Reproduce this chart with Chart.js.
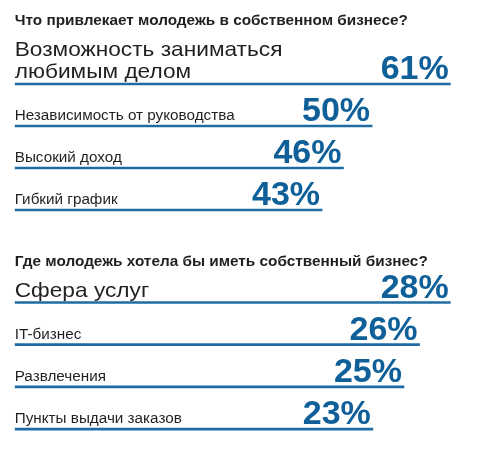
<!DOCTYPE html>
<html>
<head>
<meta charset="utf-8">
<script src="https://cdn.jsdelivr.net/npm/chart.js@4.4.1/dist/chart.umd.min.js"></script>
<style>
  html, body { margin: 0; padding: 0; background: #ffffff; }
  body { width: 488px; height: 452px; position: relative; overflow: hidden; }
  canvas { position: absolute; left: 0; }
  #c1 { top: 0; }
  #c2 { top: 231px; }
</style>
</head>
<body>
<canvas id="c1" width="488" height="231"></canvas>
<canvas id="c2" width="488" height="221"></canvas>
<script>
// ---- data ----
const title1 = 'Что привлекает молодежь в собственном бизнесе?';
const categories1 = [['Возможность заниматься', 'любимым делом'], 'Независимость от руководства', 'Высокий доход', 'Гибкий график'];
const values1 = [61, 50, 46, 43];

const title2 = 'Где молодежь хотела бы иметь собственный бизнес?';
const categories2 = ['Сфера услуг', 'IT-бизнес', 'Развлечения', 'Пункты выдачи заказов'];
const values2 = [28, 26, 25, 23];

// ---- styles ----
const FONT = '"Liberation Sans", Arial, Helvetica, sans-serif';
const LINE_COLOR = '#1f6ca5';
const VALUE_COLOR = '#0f5f99';
const TEXT_COLOR = '#231f20';

function wideText(ctx, text, x, y, sx) {
  ctx.save();
  ctx.translate(x, y);
  ctx.scale(sx, 1);
  ctx.fillText(text, 0, 0);
  ctx.restore();
}

function labelPlugin(title, titleBaseline) {
  return {
    id: 'labelsAndValues',
    afterDatasetsDraw(chart) {
      const ctx = chart.ctx;
      const area = chart.chartArea;
      const meta = chart.getDatasetMeta(0);
      const labels = chart.data.labels;
      const data = chart.data.datasets[0].data;
      ctx.save();
      ctx.textBaseline = 'alphabetic';
      ctx.textAlign = 'left';
      // title
      ctx.fillStyle = TEXT_COLOR;
      ctx.font = 'bold 14px ' + FONT;
      wideText(ctx, title, area.left, titleBaseline, 1.095);
      meta.data.forEach((el, i) => {
        const big = i === 0;
        const lines = Array.isArray(labels[i]) ? labels[i] : [labels[i]];
        ctx.fillStyle = TEXT_COLOR;
        ctx.textAlign = 'left';
        ctx.font = (big ? '21px ' : '14px ') + FONT;
        const lh = 21.6;
        lines.forEach((ln, k) => {
          wideText(ctx, ln, el.base, el.y - 6 - (lines.length - 1 - k) * lh, big ? 1.08 : 1.09);
        });
        ctx.fillStyle = VALUE_COLOR;
        ctx.textAlign = 'right';
        ctx.font = 'bold 34px ' + FONT;
        ctx.fillText(data[i] + '%', el.x - 2, el.y - 5);
      });
      ctx.restore();
    }
  };
}

function makeChart(id, cats, vals, title, titleBaseline, pad) {
  return new Chart(document.getElementById(id), {
    type: 'bar',
    data: {
      labels: cats,
      datasets: [{
        data: vals,
        backgroundColor: LINE_COLOR,
        borderWidth: 0,
        barThickness: 2
      }]
    },
    options: {
      indexAxis: 'y',
      responsive: false,
      animation: false,
      layout: { padding: pad },
      plugins: { legend: { display: false }, tooltip: { enabled: false }, title: { display: false } },
      scales: {
        x: { display: false, min: 0, max: Math.max(...vals) },
        y: { display: false }
      }
    },
    plugins: [labelPlugin(title, titleBaseline)]
  });
}

makeChart('c1', categories1, values1, title1, 25.3, { top: 63, left: 14.7, right: 37.3, bottom: 0 });
makeChart('c2', categories2, values2, title2, 34.7, { top: 50.4, left: 14.7, right: 37.3, bottom: 1.8 });
</script>
</body>
</html>
